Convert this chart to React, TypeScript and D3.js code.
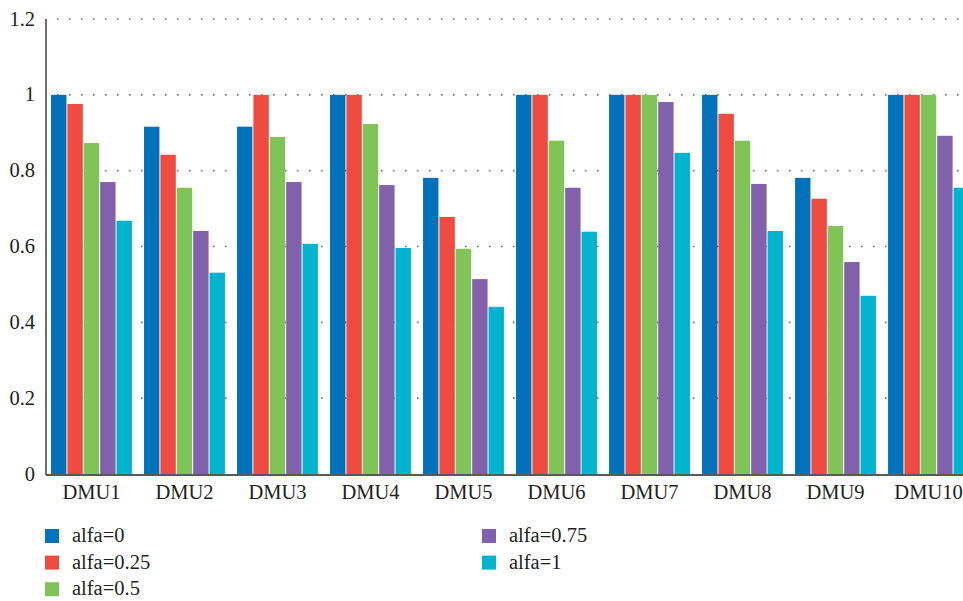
import React, { useEffect, useRef } from "react";
import * as d3 from "d3";

const categories = ["DMU1", "DMU2", "DMU3", "DMU4", "DMU5", "DMU6", "DMU7", "DMU8", "DMU9", "DMU10"];
const seriesNames = ["alfa=0", "alfa=0.25", "alfa=0.5", "alfa=0.75", "alfa=1"];
const seriesColors = ["#0072bc", "#ef4b40", "#80c457", "#8261ac", "#00b4d0"];

const alfa0 = [1.0, 0.916, 0.916, 1.0, 0.781, 1.0, 1.0, 1.0, 0.781, 1.0];
const alfa025 = [0.976, 0.842, 1.0, 1.0, 0.678, 1.0, 1.0, 0.95, 0.726, 1.0];
const alfa05 = [0.873, 0.755, 0.889, 0.923, 0.594, 0.879, 1.0, 0.879, 0.654, 1.0];
const alfa075 = [0.77, 0.641, 0.77, 0.762, 0.514, 0.755, 0.981, 0.765, 0.559, 0.892];
const alfa1 = [0.668, 0.531, 0.607, 0.596, 0.441, 0.639, 0.847, 0.641, 0.47, 0.755];

const yTicks = [0, 0.2, 0.4, 0.6, 0.8, 1, 1.2];

const series = [alfa0, alfa025, alfa05, alfa075, alfa1];

const FONT = "'Liberation Serif', 'Times New Roman', serif";

export default function App() {
  const svgRef = useRef<SVGSVGElement>(null);

  useEffect(() => {
    if (!svgRef.current) return;
    const width = 963;
    const height = 601;

    d3.select(svgRef.current).selectAll("*").remove();
    const svg = d3.select(svgRef.current).attr("width", width).attr("height", height);

    const left = 46;
    const top = 19;
    const bottom = 474;

    const x = d3
      .scaleBand<string>()
      .domain(categories)
      .range([left, 974])
      .paddingInner(0.13)
      .paddingOuter(0.054);

    const xInner = d3
      .scaleBand<number>()
      .domain(d3.range(seriesNames.length))
      .range([0, x.bandwidth()])
      .paddingInner(0.06);

    const y = d3.scaleLinear().domain([0, 1.2]).range([bottom, top]);

    // dotted grid
    svg
      .append("g")
      .selectAll("line")
      .data(yTicks.filter((t) => t > 0))
      .enter()
      .append("line")
      .attr("x1", left + 11)
      .attr("x2", width)
      .attr("y1", (d) => y(d))
      .attr("y2", (d) => y(d))
      .attr("stroke", "#777")
      .attr("stroke-width", 1.6)
      .attr("stroke-dasharray", "1.6,10.4");

    // bars
    const groups = svg
      .append("g")
      .selectAll("g")
      .data(categories)
      .enter()
      .append("g")
      .attr("transform", (d) => `translate(${x(d)},0)`);

    groups
      .selectAll("rect")
      .data((_d, i) => series.map((s, k) => ({ k, v: s[i] })))
      .enter()
      .append("rect")
      .attr("x", (d) => xInner(d.k) || 0)
      .attr("width", xInner.bandwidth())
      .attr("y", (d) => y(d.v))
      .attr("height", (d) => y(0) - y(d.v))
      .attr("fill", (d) => seriesColors[d.k]);

    // axes lines
    svg
      .append("line")
      .attr("x1", left)
      .attr("x2", left)
      .attr("y1", top)
      .attr("y2", bottom + 1)
      .attr("stroke", "#222")
      .attr("stroke-width", 1.3);
    svg
      .append("line")
      .attr("x1", left)
      .attr("x2", width)
      .attr("y1", bottom + 1)
      .attr("y2", bottom + 1)
      .attr("stroke", "#222")
      .attr("stroke-width", 1.3);

    // y labels
    svg
      .append("g")
      .selectAll("text")
      .data(yTicks)
      .enter()
      .append("text")
      .attr("x", 35)
      .attr("y", (d) => y(d) + 6.5)
      .attr("text-anchor", "end")
      .style("font-family", FONT)
      .style("font-size", "20.5px")
      .style("fill", "#231f20")
      .text((d) => (d === 0 || d === 1 ? String(d) : d.toFixed(1)));

    // x labels
    svg
      .append("g")
      .selectAll("text")
      .data(categories)
      .enter()
      .append("text")
      .attr("x", (d) => (x(d) || 0) + x.bandwidth() / 2)
      .attr("y", 499)
      .attr("text-anchor", "middle")
      .style("font-family", FONT)
      .style("font-size", "20.5px")
      .style("fill", "#231f20")
      .text((d) => d);

    // legend
    const legend = svg
      .append("g")
      .selectAll("g")
      .data(seriesNames)
      .enter()
      .append("g")
      .attr("transform", (_d, i) => {
        const col = i < 3 ? 0 : 1;
        const row = i < 3 ? i : i - 3;
        return `translate(${col === 0 ? 45 : 482},${529 + row * 26.6})`;
      });

    legend
      .append("rect")
      .attr("width", 14)
      .attr("height", 14)
      .attr("fill", (_d, i) => seriesColors[i]);

    legend
      .append("text")
      .attr("x", 27)
      .attr("y", 13)
      .style("font-family", FONT)
      .style("font-size", "20.5px")
      .style("fill", "#231f20")
      .text((d) => d);
  }, []);

  return (
    <svg
      ref={svgRef}
      style={{ position: "absolute", left: 0, top: 0, display: "block", background: "#fff" }}
    />
  );
}
